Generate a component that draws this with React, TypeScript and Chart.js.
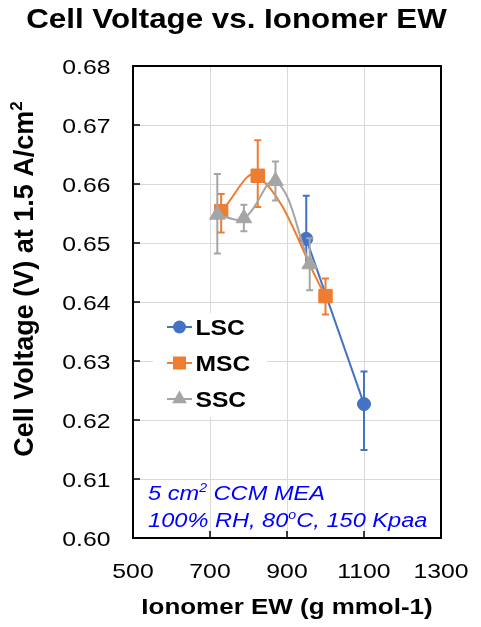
import React, { useEffect, useRef } from 'react';
import { Chart, registerables } from 'chart.js';

Chart.register(...registerables);

// ---------- data ----------
const seriesNames = ['LSC', 'MSC', 'SSC'];

const lscEW = [950, 1100];
const lscVoltage = [0.6507, 0.6227];
const lscErrPlus = [0.0073, 0.0055];
const lscErrMinus = [0.0048, 0.0078];

const mscEW = [729, 824, 1000];
const mscVoltage = [0.6554, 0.6614, 0.641];
const mscErrPlus = [0.0029, 0.006, 0.003];
const mscErrMinus = [0.0036, 0.0053, 0.0031];

const sscEW = [719, 788, 870, 959];
const sscVoltage = [0.6548, 0.6542, 0.6605, 0.6464];
const sscErrPlus = [0.0069, 0.0023, 0.0033, 0.0044];
const sscErrMinus = [0.0066, 0.0022, 0.0033, 0.0044];

const xTicks = [500, 700, 900, 1100, 1300];
const yTicks = [0.6, 0.61, 0.62, 0.63, 0.64, 0.65, 0.66, 0.67, 0.68];

const chartTitle = 'Cell Voltage vs. Ionomer EW';
const xTitle = 'Ionomer EW (g mmol-1)';
const yTitleMain = 'Cell Voltage (V) at 1.5 A/cm';
const yTitleSup = '2';
const noteLine1 = ['5 cm', '2', ' CCM MEA'];
const noteLine2 = ['100% RH, 80', 'o', 'C, 150 Kpaa'];

// ---------- styles ----------
const COLORS = ['#4472C4', '#ED7D31', '#A5A5A5'];
const STYLES = ['circle', 'rect', 'triangle'];
const RADII = [6.5, 9.5, 9];
const FONT = '"Liberation Sans", Arial, sans-serif';
const SX = 1.18;

const series = [
  { ew: lscEW, v: lscVoltage, ep: lscErrPlus, em: lscErrMinus, tension: 0 },
  { ew: mscEW, v: mscVoltage, ep: mscErrPlus, em: mscErrMinus, tension: 0.4 },
  { ew: sscEW, v: sscVoltage, ep: sscErrPlus, em: sscErrMinus, tension: 0.4 },
];

type Seg = { t: string; sup?: boolean };

function drawRich(
  ctx: CanvasRenderingContext2D,
  segs: Seg[],
  x: number,
  y: number,
  size: number,
  weight: string,
  style: string,
  color: string,
  align: 'left' | 'center' | 'right',
  sx: number,
  rotate = false
) {
  ctx.save();
  ctx.translate(x, y);
  if (rotate) ctx.rotate(-Math.PI / 2);
  ctx.scale(sx, 1);
  ctx.fillStyle = color;
  ctx.textBaseline = 'alphabetic';
  ctx.textAlign = 'left';
  const fontFor = (s: Seg) =>
    `${style} ${weight} ${s.sup ? Math.round(size * 0.62) : size}px ${FONT}`;
  let total = 0;
  const widths = segs.map((s) => {
    ctx.font = fontFor(s);
    const w = ctx.measureText(s.t).width;
    total += w;
    return w;
  });
  let cx = align === 'center' ? -total / 2 : align === 'right' ? -total : 0;
  segs.forEach((s, i) => {
    ctx.font = fontFor(s);
    ctx.fillText(s.t, cx, s.sup ? -size * 0.4 : 0);
    cx += widths[i];
  });
  ctx.restore();
}

function drawMarker(ctx: CanvasRenderingContext2D, style: string, x: number, y: number, r: number, color: string) {
  ctx.save();
  ctx.fillStyle = color;
  ctx.beginPath();
  if (style === 'circle') {
    ctx.arc(x, y, r, 0, Math.PI * 2);
  } else if (style === 'rect') {
    const s = r * Math.SQRT1_2;
    ctx.rect(x - s, y - s, 2 * s, 2 * s);
  } else {
    ctx.moveTo(x, y - r);
    ctx.lineTo(x + r * 0.866, y + r / 2);
    ctx.lineTo(x - r * 0.866, y + r / 2);
    ctx.closePath();
  }
  ctx.fill();
  ctx.restore();
}

const decorPlugin = {
  id: 'decor',
  beforeDatasetsDraw(chart: any) {
    const { ctx, chartArea: ca } = chart;
    const xs = chart.scales.x;
    const ys = chart.scales.y;
    ctx.save();
    // inward tick marks
    ctx.strokeStyle = '#000';
    ctx.lineWidth = 1.5;
    ctx.beginPath();
    yTicks.forEach((t) => {
      const py = ys.getPixelForValue(t);
      ctx.moveTo(ca.left, py);
      ctx.lineTo(ca.left + 7, py);
    });
    xTicks.forEach((t) => {
      const px = xs.getPixelForValue(t);
      ctx.moveTo(px, ca.bottom);
      ctx.lineTo(px, ca.bottom - 7);
    });
    ctx.stroke();
    // plot border
    ctx.lineWidth = 2;
    ctx.strokeRect(ca.left, ca.top, ca.right - ca.left, ca.bottom - ca.top);

    // legend
    const lx = ca.left + 20;
    const ly = ca.top + 247;
    ctx.fillStyle = '#fff';
    ctx.fillRect(lx, ly, 114, 104);
    seriesNames.forEach((name, i) => {
      const iy = ly + 14 + i * 36;
      ctx.strokeStyle = COLORS[i];
      ctx.lineWidth = 2;
      ctx.beginPath();
      ctx.moveTo(lx + 14, iy);
      ctx.lineTo(lx + 39, iy);
      ctx.stroke();
      drawMarker(ctx, STYLES[i], lx + 26.5, iy, i === 0 ? 6.5 : i === 1 ? 9.2 : 8.5, COLORS[i]);
      drawRich(ctx, [{ t: name }], lx + 42.5, iy + 8, 22, 'bold', 'normal', '#000', 'left', 1.12);
    });
    ctx.restore();
  },
  beforeDatasetDraw(chart: any, args: any) {
    const { ctx } = chart;
    const xs = chart.scales.x;
    const ys = chart.scales.y;
    const s = series[args.index];
    if (!s) return;
    ctx.save();
    ctx.strokeStyle = COLORS[args.index];
    ctx.lineWidth = 2;
    ctx.beginPath();
    s.ew.forEach((ew, i) => {
      const px = xs.getPixelForValue(ew);
      const top = ys.getPixelForValue(s.v[i] + s.ep[i]);
      const bot = ys.getPixelForValue(s.v[i] - s.em[i]);
      ctx.moveTo(px, top);
      ctx.lineTo(px, bot);
      ctx.moveTo(px - 3.5, top);
      ctx.lineTo(px + 3.5, top);
      ctx.moveTo(px - 3.5, bot);
      ctx.lineTo(px + 3.5, bot);
    });
    ctx.stroke();
    ctx.restore();
  },
  afterDraw(chart: any) {
    const { ctx, chartArea: ca } = chart;
    const xs = chart.scales.x;
    const ys = chart.scales.y;
    // tick labels
    yTicks.forEach((t) => {
      const py = ys.getPixelForValue(t);
      drawRich(ctx, [{ t: t.toFixed(2) }], ca.left - 22.5, py + 7.5, 21, 'normal', 'normal', '#000', 'right', SX);
    });
    xTicks.forEach((t) => {
      const px = xs.getPixelForValue(t);
      drawRich(ctx, [{ t: String(t) }], px, ca.bottom + 40, 21, 'normal', 'normal', '#000', 'center', SX);
    });
    // titles
    drawRich(ctx, [{ t: chartTitle }], 236.5, 28, 27, 'bold', 'normal', '#000', 'center', 1.16);
    drawRich(ctx, [{ t: xTitle }], (ca.left + ca.right) / 2, 614, 22, 'bold', 'normal', '#000', 'center', SX);
    drawRich(
      ctx,
      [{ t: yTitleMain }, { t: yTitleSup, sup: true }],
      33,
      279,
      27,
      'bold',
      'normal',
      '#000',
      'center',
      1,
      true
    );
    // note
    drawRich(
      ctx,
      [{ t: noteLine1[0] }, { t: noteLine1[1], sup: true }, { t: noteLine1[2] }],
      ca.left + 15,
      500,
      20,
      'normal',
      'italic',
      '#0000FF',
      'left',
      SX
    );
    drawRich(
      ctx,
      [{ t: noteLine2[0] }, { t: noteLine2[1], sup: true }, { t: noteLine2[2] }],
      ca.left + 15,
      527,
      20,
      'normal',
      'italic',
      '#0000FF',
      'left',
      SX
    );
  },
};

export default function App() {
  const ref = useRef<HTMLCanvasElement>(null);
  useEffect(() => {
    if (!ref.current) return;
    const chart = new Chart(ref.current, {
      type: 'line',
      data: {
        datasets: series.map((s, i) => ({
          label: seriesNames[i],
          data: s.ew.map((x, j) => ({ x, y: s.v[j] })),
          borderColor: COLORS[i],
          backgroundColor: COLORS[i],
          borderWidth: 2,
          pointStyle: STYLES[i] as any,
          pointRadius: RADII[i],
          pointBorderWidth: 1,
          pointBorderColor: COLORS[i],
          pointBackgroundColor: COLORS[i],
          tension: s.tension,
          fill: false,
          order: 2 - i,
        })),
      },
      options: {
        responsive: false,
        devicePixelRatio: 1,
        animation: false,
        events: [],
        layout: { padding: { left: 133, right: 40, top: 66, bottom: 89 } },
        plugins: {
          legend: { display: false },
          title: { display: false },
          tooltip: { enabled: false },
        },
        scales: {
          x: {
            type: 'linear',
            min: 500,
            max: 1300,
            ticks: { display: false, stepSize: 200 },
            grid: { color: '#D9D9D9', lineWidth: 1, drawTicks: false },
            border: { display: false },
          },
          y: {
            type: 'linear',
            min: 0.6,
            max: 0.68,
            ticks: { display: false, stepSize: 0.01 },
            grid: { color: '#D9D9D9', lineWidth: 1, drawTicks: false },
            border: { display: false },
          },
        },
      },
      plugins: [decorPlugin],
    });
    return () => chart.destroy();
  }, []);
  return (
    <div style={{ position: 'fixed', left: 0, top: 0, width: 481, height: 627, background: '#fff' }}>
      <canvas ref={ref} width={481} height={627} style={{ width: 481, height: 627, display: 'block' }} />
    </div>
  );
}
